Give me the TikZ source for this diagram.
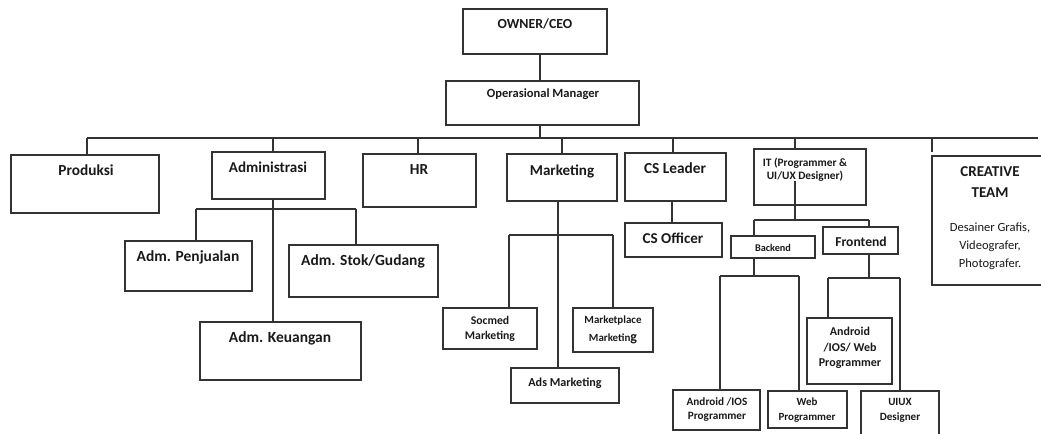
\documentclass[tikz,border=0pt]{standalone}
\usepackage{fontspec}
\setmainfont{Carlito}
\usetikzlibrary{calc}
\newcommand\mkbox[5]{\node[bx, minimum width={(#4-#2)*0.75pt}, minimum height={(#5-#3)*0.75pt}] (#1) at ({(#2+#4)/2},{(#3+#5)/2}) {};}
\begin{document}
\begin{tikzpicture}[x=0.75pt,y=-0.75pt,
  bx/.style={draw=black!80, line width=0.9pt, inner sep=0pt, outer sep=0pt, rectangle},
  ln/.style={draw=black!80, line width=0.8pt},
  tx/.style 2 args={font=\bfseries\fontsize{#1}{#2}\selectfont, align=center, inner sep=0pt, text=black!90},
  rx/.style 2 args={font=\fontsize{#1}{#2}\selectfont, align=center, inner sep=0pt, text=black!90}]
\useasboundingbox (0,0) rectangle (1041,433);
\clip (0,0) rectangle (1041,433);
% boxes
\mkbox{owner}{463}{9}{607}{54}
\mkbox{opm}{446}{81}{639}{125}
\mkbox{prod}{11}{155}{159}{213}
\mkbox{adm}{212}{152}{325}{199}
\mkbox{hr}{363}{154}{476}{207}
\mkbox{mkt}{507}{154}{617}{201}
\mkbox{csl}{625}{153}{726}{201}
\mkbox{it}{754}{149}{866}{205}
\mkbox{cr}{932}{156}{1050}{285}
\mkbox{pen}{125}{241}{252}{291}
\mkbox{stok}{289}{245}{438}{297}
\mkbox{kue}{200}{322}{361}{380}
\mkbox{soc}{443}{308}{537}{349}
\mkbox{mp}{573}{308}{653}{352}
\mkbox{ads}{511}{368}{619}{403}
\mkbox{cso}{625}{223}{722}{257}
\mkbox{be}{731}{236}{815}{258}
\mkbox{fe}{823}{227}{898}{254}
\mkbox{aip}{673}{390}{760}{430}
\mkbox{web}{768}{391}{847}{428}
\mkbox{aiw}{807}{318}{892}{384}
\mkbox{ui}{861}{391}{939}{445}
% texts
\node[tx={10.4}{12}] (t-owner) at (535,24) {OWNER/CEO};
\node[tx={9.4}{11}] (t-opm) at (543,94) {Operasional Manager};
\node[tx={11.5}{14}] (t-prod) at (86,170) {Produksi};
\node[tx={11.3}{14}] (t-adm) at (268,167) {Administrasi};
\node[tx={11.5}{14}] (t-hr) at (419,170) {HR};
\node[tx={11.3}{14}] (t-mkt) at (562,171) {Marketing};
\node[tx={11.5}{14}] (t-csl) at (675,168) {CS Leader};
\node[tx={8.5}{9.75}] (t-it) at (805,170) {IT (Programmer \&\\UI/UX Designer)};
\node[tx={11.3}{15.75}] (t-cr) at (990,182) {CREATIVE\\TEAM};
\node[rx={9.4}{13.5}] (t-crd) at (990,246) {Desainer Grafis,\\Videografer,\\Photografer.};
\node[tx={11.6}{14}] (t-pen) at (188,257) {Adm. Penjualan};
\node[tx={11.6}{14}] (t-stok) at (363,261) {Adm. Stok/Gudang};
\node[tx={11.6}{14}] (t-kue) at (280,338) {Adm. Keuangan};
\node[tx={8.8}{11.25}] (t-soc) at (490,329) {Socmed\\Marketing};
\node[tx={8.2}{13}] (t-mp) at (613,330) {Marketplace\\Marketin{\fontsize{10.5}{13}\selectfont g}};
\node[tx={9.1}{11}] (t-ads) at (565,383) {Ads Marketing};
\node[tx={11.3}{14}] (t-cso) at (673,238) {CS Officer};
\node[tx={7.7}{9}] (t-be) at (773,248) {Backend};
\node[tx={10.2}{12}] (t-fe) at (861,242) {Frontend};
\node[tx={8.4}{10.5}] (t-aip) at (717,410) {Android /IOS\\Programmer};
\node[tx={8.2}{11.25}] (t-web) at (807,410) {Web\\Programmer};
\node[tx={9}{11.6}] (t-aiw) at (850,348) {Android\\/IOS/ Web\\Programmer};
\node[tx={8.3}{11.25}] (t-ui) at (900,410) {UIUX\\Designer};
% connectors: top
\coordinate (c0) at (540,0);
\coordinate (barL) at (87,138);
\coordinate (barR) at (1038,138);
\draw[ln] (owner.south -| c0) -- (opm.north -| c0);
\draw[ln] (opm.south -| c0) -- (c0 |- barL);
\draw[ln] (barL) -- (barR);
\coordinate (dA) at (273,0);
\coordinate (dH) at (418,0);
\coordinate (dM) at (562,0);
\coordinate (dC) at (673,0);
\coordinate (dI) at (795,0);
\coordinate (dR) at (932,0);
\draw[ln] (barL) -- (barL |- prod.north);
\draw[ln] (dA |- barL) -- (dA |- adm.north);
\draw[ln] (dH |- barL) -- (dH |- hr.north);
\draw[ln] (dM |- barL) -- (dM |- mkt.north);
\draw[ln] (dC |- barL) -- (dC |- csl.north);
\draw[ln] (dI |- barL) -- (dI |- it.north);
\draw[ln] (dR |- barL) -- ($(dR |- cr.north)+(0,-4)$);
% Administrasi subtree
\coordinate (abL) at (196,209);
\coordinate (abR) at (356,209);
\draw[ln] (dA |- adm.south) -- (dA |- kue.north);
\draw[ln] (abL) -- (abR);
\draw[ln] (abL) -- (abL |- pen.north);
\draw[ln] (abR) -- (abR |- stok.north);
% Marketing subtree
\coordinate (dM2) at (558,0);
\coordinate (mbL) at (509,235);
\coordinate (mbR) at (613,235);
\draw[ln] (dM2 |- mkt.south) -- (dM2 |- ads.north);
\draw[ln] (mbL) -- (mbR);
\draw[ln] (mbL) -- (mbL |- soc.north);
\draw[ln] (mbR) -- (mbR |- mp.north);
% CS subtree
\coordinate (dC2) at (672,0);
\draw[ln] (dC2 |- csl.south) -- (dC2 |- cso.north);
% IT subtree
\coordinate (ibL) at (754,220);
\coordinate (ibR) at (869,220);
\draw[ln] ($(dI |- it.south)+(0,-24)$) -- (dI |- ibL);
\draw[ln] (ibL) -- (ibR);
\draw[ln] (ibL) -- (ibL |- be.north);
\draw[ln] (ibR) -- (ibR |- fe.north);
\coordinate (bbL) at (720,276);
\coordinate (bbR) at (799,276);
\draw[ln] (ibL |- be.south) -- (ibL |- bbL);
\draw[ln] (bbL) -- (bbR);
\draw[ln] (bbL) -- (bbL |- aip.north);
\draw[ln] (bbR) -- (bbR |- web.north);
\coordinate (fbL) at (828,278);
\coordinate (fbR) at (900,278);
\draw[ln] (ibR |- fe.south) -- (ibR |- fbL);
\draw[ln] (fbL) -- (fbR);
\draw[ln] (fbL) -- (fbL |- aiw.north);
\draw[ln] (fbR) -- (fbR |- ui.north);
\end{tikzpicture}
\end{document}
